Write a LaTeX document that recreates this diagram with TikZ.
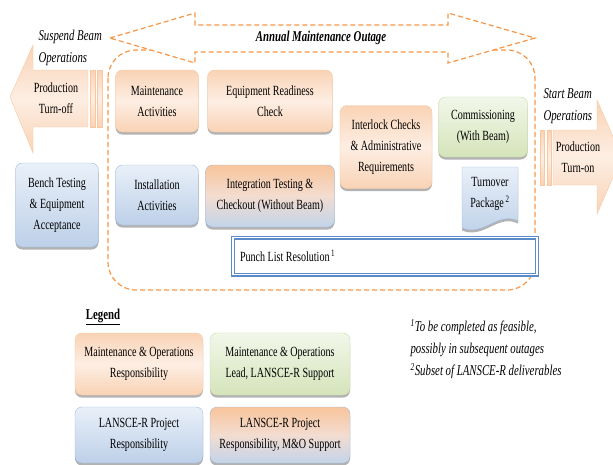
\documentclass[tikz,border=0pt]{standalone}
\usepackage{fontspec}
\setmainfont{Liberation Serif}[FakeStretch=0.72]
\usetikzlibrary{shapes.geometric, arrows, shadows}
\definecolor{moline}{HTML}{F8C8A2}
\definecolor{moedge}{HTML}{F9D3B5}
\definecolor{molight}{HTML}{FDEEE3}
\definecolor{projline}{HTML}{9DB9DC}
\definecolor{projtop}{HTML}{E9F0F9}
\definecolor{projbot}{HTML}{BDD0E8}
\definecolor{leadline}{HTML}{C6D9A4}
\definecolor{leadtop}{HTML}{F2F7EA}
\definecolor{leadbot}{HTML}{D5E4BA}
\definecolor{mixtop}{HTML}{F8C59C}
\definecolor{mixmid}{HTML}{F3DCD0}
\definecolor{mixbot}{HTML}{C2D4EA}
\definecolor{outage}{HTML}{F79646}
\definecolor{punchline}{HTML}{5B8BC9}
\tikzstyle{boxtext} = [text centered, align=center, font=\fontsize{14}{21}\selectfont]
\tikzstyle{box} = [boxtext, rectangle, rounded corners=7pt, drop shadow={shadow xshift=0pt, shadow yshift=-2.5pt, opacity=0.3, fill=black}]
\tikzstyle{mobox} = [box, draw=moline, top color=moedge, bottom color=moedge, middle color=molight]
\tikzstyle{projbox} = [box, draw=projline, top color=projtop, bottom color=projbot]
\tikzstyle{leadbox} = [box, draw=leadline, top color=leadtop, bottom color=leadbot]
\tikzstyle{mixbox} = [box, draw=projline, top color=mixtop, bottom color=mixbot, middle color=mixmid]
\tikzstyle{bigarrow} = [draw=moline, top color=moedge, bottom color=moedge, middle color=molight]
\tikzstyle{dashline} = [draw=outage, line width=1.2pt, dash pattern=on 5pt off 3pt]
\tikzstyle{tag} = [font=\itshape\fontsize{15}{22}\selectfont, align=left, anchor=west]
\tikzstyle{punchbox} = [rectangle, draw=punchline, line width=1.1pt, double=white, double distance=1.8pt, fill=white, align=flush left, font=\fontsize{14}{21}\selectfont]

\begin{document}
\begin{tikzpicture}[x=1pt, y=-1pt]
    \useasboundingbox (0,0) rectangle (613,464);

    \draw [dashline, rounded corners=28pt] (108,50) rectangle (535,290);
    \path [dashline, fill=white] (110,38) -- (195,13) -- (195,25) -- (448,25) -- (448,13) -- (535,38) -- (448,63) -- (448,52) -- (195,52) -- (195,63) -- cycle;
    \node [font=\bfseries\itshape\fontsize{15}{18}\selectfont] at (321,38) (outage) {Annual Maintenance Outage};

    \path [bigarrow] (10,97) -- (33,45) -- (33,70) -- (88,70) -- (88,127) -- (33,127) -- (33,153) -- cycle;
    \path [bigarrow] (90,70) rectangle (95,127);
    \path [bigarrow] (97,70) rectangle (102,127);
    \node [boxtext] at (56,98) (turnoff) {Production\\Turn-off};
    \node [tag] at (35,48) (suspend) {Suspend Beam\\Operations};

    \path [bigarrow] (540,130) rectangle (544,185);
    \path [bigarrow] (547,130) rectangle (551,185);
    \path [bigarrow] (553,130) -- (597,130) -- (597,100) -- (622,157) -- (597,214) -- (597,185) -- (553,185) -- cycle;
    \node [boxtext] at (578,157) (turnon) {Production\\Turn-on};
    \node [tag] at (540,106) (start) {Start Beam\\Operations};

    \node [mobox, minimum width=83pt, minimum height=62pt] at (157,101) (maint) {Maintenance\\Activities};
    \node [mobox, minimum width=125pt, minimum height=62pt] at (270,101) (ready) {Equipment Readiness\\Check};
    \node [mobox, minimum width=92pt, minimum height=83pt] at (386,147) (interlock) {Interlock Checks\\\& Administrative\\Requirements};
    \node [leadbox, minimum width=89pt, minimum height=60pt] at (483,127) (commission) {Commissioning\\(With Beam)};
    \node [projbox, minimum width=83pt, minimum height=84pt] at (57,205) (bench) {Bench Testing\\\& Equipment\\Acceptance};
    \node [projbox, minimum width=83pt, minimum height=60pt] at (157,195) (install) {Installation\\Activities};
    \node [mixbox, minimum width=129pt, minimum height=62pt] at (270,196) (integ) {Integration Testing \&\\Checkout (Without Beam)};

    \path [draw=projline, top color=projtop, bottom color=projbot, drop shadow={shadow xshift=0pt, shadow yshift=-2.5pt, opacity=0.3, fill=black}] (462,167) -- (518,167) -- (518,221) .. controls (498,211) and (484,237) .. (462,228) -- cycle;
    \node [boxtext] at (490,194) (turnover) {Turnover\\Package\textsuperscript{\,2}};

    \node [punchbox, minimum width=304pt, minimum height=37pt, text width=290pt] at (385,256) (punch) {Punch List Resolution\textsuperscript{\,1}};

    \node [font=\bfseries\fontsize{15}{18}\selectfont] at (103,317) (legend) {\underline{Legend}};
    \node [mobox, minimum width=128pt, minimum height=62pt] at (139,364) (lmo) {Maintenance \& Operations\\Responsibility};
    \node [leadbox, minimum width=140pt, minimum height=62pt] at (280,364) (llead) {Maintenance \& Operations\\Lead, LANSCE-R Support};
    \node [projbox, minimum width=128pt, minimum height=56pt] at (139,435) (lproj) {LANSCE-R Project\\Responsibility};
    \node [mixbox, minimum width=140pt, minimum height=56pt] at (280,435) (lmix) {LANSCE-R Project\\Responsibility, M\&O Support};

    \node [tag] at (407,349) (notes) {\textsuperscript{1}To be completed as feasible,\\possibly in subsequent outages\\\textsuperscript{2}Subset of LANSCE-R deliverables};
\end{tikzpicture}
\end{document}
